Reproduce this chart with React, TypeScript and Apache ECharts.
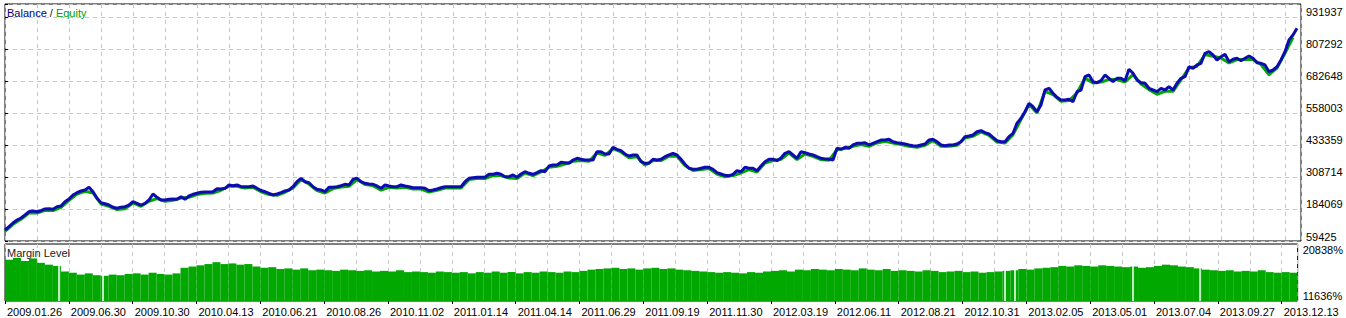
import React, { useEffect, useRef } from 'react';
import * as echarts from 'echarts';

// Balance per trade step (x = trade index, 324 steps across the chart)
const balance = [
  102300, 115100, 129500, 141200, 149000, 160700, 173600, 176300, 173600, 177400,
  184100, 185200, 182900, 193000, 195800, 212500, 223000, 238600, 247600, 254200,
  258100, 268600, 251500, 225700, 208600, 204700, 199600, 190700, 186800, 190700,
  193000, 199600, 212500, 206300, 199600, 206300, 219100, 242500, 229600, 219100,
  219100, 221900, 223000, 221900, 232000, 221900, 234700, 241300, 245200, 249100,
  250300, 250300, 251500, 263100, 262000, 264700, 277600, 274800, 277600, 270900,
  270900, 270900, 273700, 264700, 256100, 251500, 245200, 238600, 242500, 247600,
  254200, 258100, 270900, 290400, 303600, 290400, 286500, 270900, 260800, 258100,
  251500, 268600, 268600, 270900, 274800, 280300, 277600, 299800, 303600, 290400,
  284200, 281400, 280300, 273700, 264700, 277600, 273700, 270900, 270900, 277600,
  273700, 270900, 267000, 267000, 267000, 264700, 255300, 258100, 262000, 267000,
  270900, 270900, 270900, 270900, 270900, 290400, 303600, 306000, 307500, 307500,
  307500, 319200, 319200, 323100, 319200, 309900, 309900, 316500, 307500, 320400,
  329400, 323100, 319200, 325500, 333300, 329400, 351600, 355500, 355500, 366000,
  364400, 362100, 374900, 381500, 377700, 374900, 374900, 374900, 407300, 407300,
  398300, 398300, 424400, 416600, 411200, 398300, 390500, 394400, 394400, 368300,
  362100, 362100, 377700, 374900, 377700, 387800, 394400, 401000, 394400, 377700,
  358200, 342600, 338700, 338700, 342600, 346500, 346500, 338700, 325500, 320400,
  315300, 313800, 319200, 333300, 329400, 346500, 342600, 342600, 333300, 351600,
  368300, 377700, 377700, 372200, 382700, 401000, 407300, 394400, 381500, 407300,
  403400, 398300, 394400, 387800, 381500, 378800, 378800, 374900, 420500, 416600,
  424400, 420500, 433400, 440000, 440000, 442300, 433400, 440000, 446200, 452800,
  452800, 455600, 446200, 442300, 440000, 437300, 433400, 430600, 429500, 433400,
  437300, 452800, 455600, 446200, 433400, 430600, 433400, 433400, 437300, 446200,
  465700, 468400, 472300, 485200, 489100, 481300, 476200, 463300, 450100, 446200,
  446200, 465700, 478900, 517900, 537400, 563100, 595800, 582500, 563100, 589200,
  647600, 654200, 634700, 619200, 608600, 608600, 611400, 602000, 641000, 647600,
  699400, 706000, 679900, 676000, 683800, 706000, 693200, 679900, 693200, 693200,
  683800, 728200, 712600, 686500, 676000, 673700, 654200, 647600, 641000, 654200,
  647600, 660400, 647600, 673700, 693200, 699400, 738300, 732100, 745000, 751600,
  790500, 796800, 783900, 764400, 777300, 786600, 757800, 767200, 771100, 761700,
  771100, 780000, 771100, 753900, 751600, 745000, 718900, 725500, 738300, 764400,
  796800, 842300, 861800, 887900,
];

// Equity, every second trade step
const equity = [
  97300, 124500, 144000, 168600, 168600, 179100, 177900, 190800, 218000, 242600,
  253100, 246500, 203600, 194600, 181800, 185000, 207500, 194600, 214100, 224600,
  214100, 218000, 227000, 229700, 240200, 245300, 246500, 257000, 272600, 272600,
  265900, 268700, 251100, 240200, 237500, 249200, 265900, 298600, 281500, 255800,
  246500, 263600, 269800, 272600, 298600, 279200, 275300, 257700, 268700, 265900,
  268700, 262000, 262000, 250300, 257000, 265900, 265900, 265900, 298600, 302500,
  302500, 314200, 314200, 304900, 302500, 324400, 314200, 328300, 346600, 350500,
  359400, 369900, 372700, 369900, 402300, 393300, 419400, 406200, 383500, 387400,
  355100, 372700, 372700, 389400, 389400, 353200, 333700, 337600, 341500, 320500,
  309300, 314200, 324400, 337600, 328300, 363300, 372700, 377700, 402300, 376500,
  398400, 389400, 376500, 373800, 415500, 419400, 428400, 435000, 428400, 441200,
  447800, 441200, 435000, 428400, 424500, 432300, 450600, 428400, 428400, 432300,
  460700, 467300, 484100, 471200, 445100, 441200, 473900, 532400, 590800, 558100,
  642600, 629700, 603600, 606400, 636000, 694400, 674900, 678800, 688200, 688200,
  678800, 707600, 671000, 649200, 631000, 642600, 642600, 688200, 733300, 740000,
  785500, 778900, 772300, 752800, 766100, 766100, 766100, 746600, 707000, 733300,
  791800, 852000,
];

// Margin level (%), one bar per two trade steps
const margin = [
  18300, 18600, 18100, 18500, 17800, 17500, 17300, 16400, 16200, 15900,
  16100, 15800, 15700, 15900, 15800, 16000, 16100, 15900, 16200, 16000,
  15900, 16100, 17000, 17200, 17400, 17600, 17900, 17600, 17700, 17500,
  17600, 17200, 17000, 17100, 16800, 16900, 16700, 16900, 16600, 16700,
  16600, 16500, 16700, 16600, 16500, 16600, 16400, 16500, 16400, 16600,
  16300, 16400, 16300, 16200, 16400, 16300, 16200, 16300, 16100, 16300,
  16200, 16400, 16200, 16300, 16100, 16300, 16200, 16400, 16300, 16200,
  16400, 16300, 16500, 16700, 16800, 16900, 17000, 16800, 16900, 16700,
  16900, 17000, 16800, 16900, 16700, 16600, 16500, 16400, 16300, 16200,
  16300, 16200, 16100, 16300, 16200, 16400, 16500, 16600, 16400, 16700,
  16600, 16800, 16700, 16600, 16800, 16700, 16600, 16900, 16700, 16600,
  16800, 16500, 16600, 16500, 16400, 16600, 16500, 16300, 16400, 16500,
  16300, 16400, 16200, 16300, 16400, 16500, 16600, 16800, 16700, 16900,
  17000, 17100, 17300, 17200, 17400, 17300, 17200, 17400, 17300, 17200,
  17100, 17200, 17000, 17100, 17300, 17500, 17400, 17200, 17100, 16900,
  16700, 16600, 16500, 16600, 16400, 16500, 16400, 16600, 16300, 16200,
  16300, 16200,
];

// trade positions where the margin level drops to nothing
const marginGaps = [13.5, 24.5, 250.5, 253, 282.75, 299.5];

const dateLabels = [
  '2009.01.26', '2009.06.30', '2009.10.30', '2010.04.13', '2010.06.21', '2010.08.26',
  '2010.11.02', '2011.01.14', '2011.04.14', '2011.06.29', '2011.09.19', '2011.11.30',
  '2012.03.19', '2012.06.11', '2012.08.21', '2012.10.31', '2013.02.05', '2013.05.01',
  '2013.07.04', '2013.09.27', '2013.12.13',
];

const balanceTicks = ['59425', '184069', '308714', '433359', '558003', '682648', '807292', '931937'];
const marginTicks = ['11636%', '20838%'];

const TRADES = 324;
const B_MIN = 59425;
const B_STEP = 124644.57;
const B_MAX = 982564;
const M_MIN = 11636;
const M_MAX = 20838;

const FONT = '"Liberation Sans Narrow", "Liberation Sans", Arial, sans-serif';
const BLUE = '#0c0cb0';
const GREEN = '#00a800';
const GRID_LINE = { show: true, lineStyle: { color: '#c8c8c8', type: [4, 4] as any, width: 1 } };

export default function App() {
  const ref = useRef<HTMLDivElement>(null);
  useEffect(() => {
    if (!ref.current) return;
    const chart = echarts.init(ref.current, undefined, { renderer: 'svg' });
    const option: any = {
      animation: false,
      backgroundColor: '#ffffff',
      textStyle: { fontFamily: FONT },
      title: [
        {
          text: '{b|Balance} {s|/} {e|Equity}',
          left: 7,
          top: 7,
          padding: 0,
          textStyle: {
            fontFamily: FONT,
            fontSize: 11,
            fontWeight: 'normal',
            rich: {
              b: { color: '#000080', fontFamily: FONT, fontSize: 11 },
              s: { color: '#202020', fontFamily: FONT, fontSize: 11 },
              e: { color: '#00a000', fontFamily: FONT, fontSize: 11 },
            },
          },
        },
        {
          text: 'Margin Level',
          left: 7,
          top: 247,
          padding: 0,
          textStyle: { fontFamily: FONT, fontSize: 11, fontWeight: 'normal', color: '#202020' },
        },
      ],
      grid: [
        { left: 5, top: 4, width: 1296, height: 237, show: true, borderColor: '#000', borderWidth: 1, backgroundColor: 'transparent' },
        { left: 5, top: 244, width: 1296, height: 57, show: true, borderColor: '#000', borderWidth: 1, backgroundColor: 'transparent' },
      ],
      xAxis: [
        {
          type: 'value', gridIndex: 0, min: 0, max: TRADES, interval: 8,
          axisLine: { show: false }, axisTick: { show: false }, axisLabel: { show: false },
          splitLine: GRID_LINE,
        },
        {
          type: 'value', gridIndex: 1, min: 0, max: TRADES, interval: 8,
          axisLine: { show: false }, axisTick: { show: false }, axisLabel: { show: false },
          splitLine: GRID_LINE,
        },
        {
          type: 'value', gridIndex: 1, min: 0, max: TRADES, interval: 16, position: 'bottom',
          axisLine: { show: false },
          axisTick: { show: true, length: 3, lineStyle: { color: '#000', width: 1 } },
          splitLine: { show: false },
          axisLabel: {
            show: true,
            margin: 5,
            align: 'left',
            padding: [0, 0, 0, 2],
            color: '#000',
            fontFamily: FONT,
            fontSize: 11,
            showMaxLabel: false,
            formatter: (v: number) => {
              const k = v / 16;
              return Number.isInteger(k) && dateLabels[k] ? dateLabels[k] : '';
            },
          },
        },
      ],
      yAxis: [
        {
          type: 'value', gridIndex: 0, position: 'right', min: B_MIN, max: B_MAX, interval: B_STEP,
          axisLine: { show: false },
          axisTick: { show: true, length: 3, lineStyle: { color: '#000', width: 1 } },
          splitLine: GRID_LINE,
          axisLabel: {
            show: true,
            margin: 5,
            align: 'left',
            verticalAlign: 'bottom',
            lineHeight: 9,
            color: '#000',
            fontFamily: FONT,
            fontSize: 11,
            formatter: (v: number) => {
              const k = Math.round((v - B_MIN) / B_STEP);
              if (Math.abs(v - (B_MIN + k * B_STEP)) > 1) return '';
              return balanceTicks[k] ?? '';
            },
          },
        },
        {
          type: 'value', gridIndex: 1, position: 'right', min: M_MIN, max: M_MAX, interval: M_MAX - M_MIN,
          axisLine: { show: false },
          axisTick: { show: false },
          splitLine: { show: false },
          axisLabel: {
            show: true,
            margin: 5,
            align: 'left',
            color: '#000',
            fontFamily: FONT,
            fontSize: 11,
            formatter: (v: number) => (v >= M_MAX - 1 ? '{t|' + marginTicks[1] + '}' : '{b|' + marginTicks[0] + '}'),
            rich: {
              t: { padding: [12, 0, 0, 0], fontFamily: FONT, fontSize: 11, color: '#000' },
              b: { padding: [0, 0, 10, 0], fontFamily: FONT, fontSize: 11, color: '#000' },
            },
          },
        },
      ],
      series: [
        {
          name: 'Equity', type: 'line', xAxisIndex: 0, yAxisIndex: 0,
          data: equity.map((v, j) => [j * 2, v]),
          symbol: 'none', z: 2,
          lineStyle: { color: GREEN, width: 3 },
        },
        {
          name: 'Balance', type: 'line', xAxisIndex: 0, yAxisIndex: 0,
          data: balance.map((v, i) => [i, v]),
          symbol: 'none', z: 3,
          lineStyle: { color: BLUE, width: 3 },
        },
        {
          name: 'Margin Level', type: 'bar', xAxisIndex: 1, yAxisIndex: 1,
          data: margin.map((v, j) => [j * 2 + 1, v]),
          barWidth: 8,
          itemStyle: { color: GREEN },
          markLine: {
            silent: true,
            symbol: 'none',
            label: { show: false },
            lineStyle: { color: '#ffffff', width: 1.5, type: 'solid' },
            data: marginGaps.map((g) => [{ coord: [g, M_MIN] }, { coord: [g, 19800] }]),
          },
        },
      ],
    };
    chart.setOption(option);
    return () => chart.dispose();
  }, []);
  return (
    <div
      ref={ref}
      style={{ position: 'fixed', left: 0, top: 0, width: 1346, height: 318, background: '#fff' }}
    />
  );
}
